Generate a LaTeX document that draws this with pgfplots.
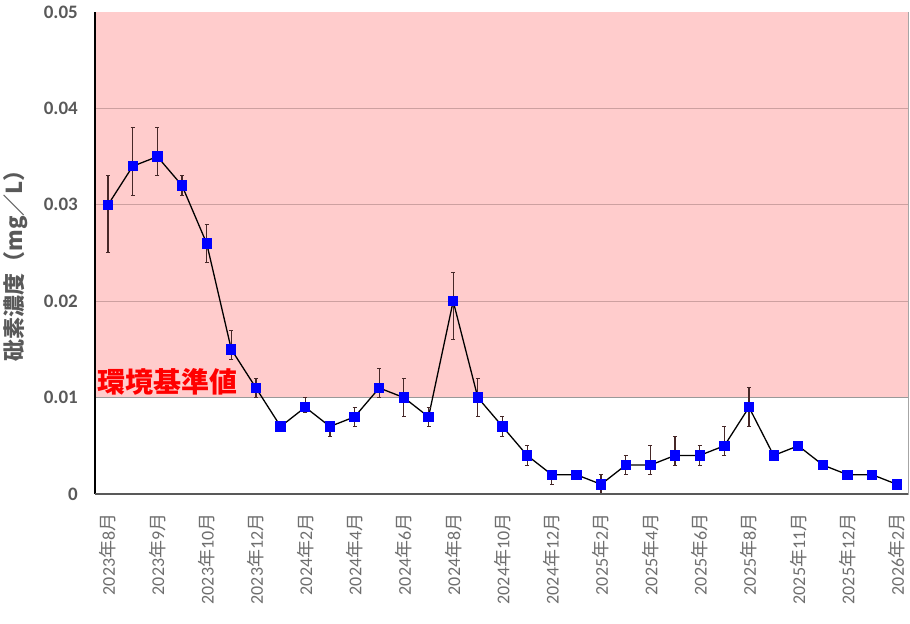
\documentclass[border=0pt]{standalone}
\usepackage{fontspec}
\setmainfont{Carlito}
\newfontfamily\cjk{Noto Sans CJK JP}
\usepackage{pgfplots}
\usepackage{pgfplotstable}
\pgfplotsset{compat=1.18}

\definecolor{pinkc}{RGB}{255,204,204}
\definecolor{gridc}{RGB}{205,160,160}
\definecolor{txtc}{RGB}{89,89,89}
\definecolor{xtxtc}{RGB}{110,110,110}
\definecolor{errc}{RGB}{70,40,40}

\newcommand{\ym}[2]{#1{\cjk 年}#2{\cjk 月}}

\pgfplotstableread{
x y ep em
0 0.030 0.003 0.005
1 0.034 0.004 0.003
2 0.035 0.003 0.002
3 0.032 0.001 0.001
4 0.026 0.002 0.002
5 0.015 0.002 0.001
6 0.011 0.001 0.001
7 0.007 0 0
8 0.009 0.001 0.0005
9 0.007 0.0005 0.001
10 0.008 0.001 0.001
11 0.011 0.002 0.001
12 0.010 0.002 0.002
13 0.008 0.001 0.001
14 0.020 0.003 0.004
15 0.010 0.002 0.002
16 0.007 0.001 0.001
17 0.004 0.001 0.001
18 0.002 0 0.001
19 0.002 0 0
20 0.001 0.001 0.001
21 0.003 0.001 0.001
22 0.003 0.002 0.001
23 0.004 0.002 0.001
24 0.004 0.001 0.001
25 0.005 0.002 0.001
26 0.009 0.002 0.002
27 0.004 0 0
28 0.005 0 0
29 0.003 0 0
30 0.002 0 0
31 0.002 0 0
32 0.001 0 0
}\data

\begin{document}
\begin{tikzpicture}
\begin{axis}[
  scale only axis,
  width=813pt, height=482pt,
  xmin=-0.53, xmax=32.45,
  ymin=0, ymax=0.05,
  axis line style={draw=gray!70, line width=0.6pt},
  major tick length=0pt,
  ytick={0,0.01,0.02,0.03,0.04,0.05},
  yticklabels={0,0.01,0.02,0.03,0.04,0.05},
  yticklabel style={font=\fontsize{19}{19}\selectfont\bfseries, text=txtc, xshift=-16pt, inner sep=1pt},
  xtick={0,2,...,32},
  xticklabels={\ym{2023}{8},\ym{2023}{9},\ym{2023}{10},\ym{2023}{12},\ym{2024}{2},\ym{2024}{4},\ym{2024}{6},\ym{2024}{8},\ym{2024}{10},\ym{2024}{12},\ym{2025}{2},\ym{2025}{4},\ym{2025}{6},\ym{2025}{8},\ym{2025}{11},\ym{2025}{12},\ym{2026}{2}},
  xticklabel style={rotate=90, anchor=east, font=\fontsize{18}{18}\selectfont, text=xtxtc, xshift=-16pt},
  clip=false,
]
  \addplot[draw=none, fill=pinkc, forget plot] coordinates {(-0.53,0.01) (32.45,0.01) (32.45,0.05) (-0.53,0.05)} -- cycle;
  \addplot[gridc, line width=0.7pt, forget plot] coordinates {(-0.53,0.02) (32.45,0.02)};
  \addplot[gridc, line width=0.7pt, forget plot] coordinates {(-0.53,0.03) (32.45,0.03)};
  \addplot[gridc, line width=0.7pt, forget plot] coordinates {(-0.53,0.04) (32.45,0.04)};
  \addplot[gray!80, line width=0.8pt, forget plot] coordinates {(-0.53,0.01) (32.45,0.01)};

  \addplot[black, line width=1.3pt, mark=square*, mark size=4.5pt,
    mark options={fill=blue, draw=blue, solid},
    error bars/.cd, y dir=both, y explicit,
    error bar style={errc, line width=1.2pt},
    error mark options={rotate=90, mark size=2pt, errc, line width=1pt}]
    table[x=x, y=y, y error plus=ep, y error minus=em]{\data};

  \draw[black, line width=2pt] (rel axis cs:0,0) -- (rel axis cs:0,1);
  \draw[txtc, line width=2pt] (rel axis cs:0,0) -- (rel axis cs:1,0);

  \node[anchor=base west, text=red, font=\cjk\fontsize{28}{28}\selectfont\bfseries, inner sep=0pt]
    at (axis cs:-0.42,0.0105) {環境基準値};
  \node[rotate=90, anchor=center, text=txtc, font=\cjk\fontsize{22}{22}\selectfont\bfseries]
    at ([xshift=-79pt]rel axis cs:0,0.485) {砒素濃度（mg／L）};
\end{axis}
\pgfresetboundingbox
\path ([shift={(-95pt,-130pt)}]current axis.south west) rectangle ([shift={(2pt,12pt)}]current axis.north east);
\end{tikzpicture}
\end{document}
